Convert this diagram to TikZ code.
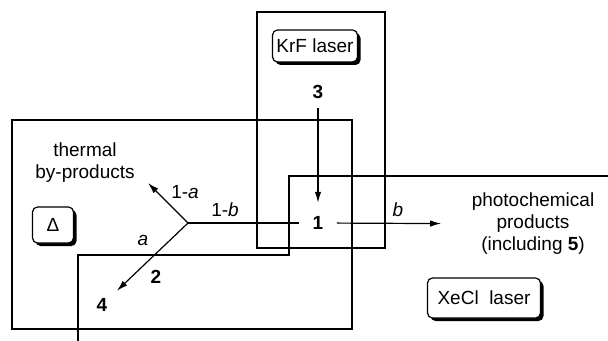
\documentclass[tikz,border=0pt]{standalone}
\usepackage{fontspec}
\setmainfont{Liberation Sans}
\usetikzlibrary{arrows.meta, positioning, shadows}

\begin{document}
\begin{tikzpicture}[x=0.5pt, y=-0.5pt, line width=0.6pt,
  font=\fontsize{9.5}{11}\selectfont,
  lamp/.style={draw, fill=white, rounded corners=2.5pt, inner sep=0pt,
    drop shadow={shadow xshift=1.5pt, shadow yshift=-1.5pt, opacity=1, fill=black}},
  cmpd/.style={font=\fontsize{9.5}{11}\selectfont\bfseries, inner sep=4.5pt},
  >={Latex[length=5.5pt, width=3.2pt]}]
\useasboundingbox (0,0) rectangle (608,341);

% irradiation / heating zones
\draw (12,120) rectangle (352,329);
\draw (257,12) rectangle (385,248);
\draw (78,341) -- (78,255) -- (289,255) -- (289,176) -- (608,176);

\node[lamp, minimum width=42.5pt, minimum height=16pt] (krf) at (315,46) {KrF laser};
\node[lamp, minimum width=20.5pt, minimum height=18pt] (heat) at (53,225) {Δ};
\node[lamp, minimum width=56.5pt, minimum height=20pt] (xecl) at (484,298) {XeCl\ \ laser};

\node[cmpd] (n3) at (318,92) {3};
\node[cmpd, inner sep=6.5pt] (n1) at (318,223) {1};
\node[cmpd] (n2) at (156,277) {2};
\node[cmpd] (n4) at (102,305) {4};
\coordinate (fork) at (188,223);
\coordinate (tb) at (148,183);

\node[align=center] (thermal) at (85,163) {thermal\\by-products};
\node[align=center, inner sep=0pt] (photo) at (533,224) {photochemical\\products\\(including \textbf{5})};

\node (l1a) at (185,192) {1-\textit{a}};
\node (l1b) at (225,210) {1-\textit{b}};
\node (la) at (143,240) {\textit{a}};
\node (lb) at (398,210) {\textit{b}};

\draw[->] (n3) -- (n1);
\draw (fork) -- (n1);
\draw[->, shorten >=15pt] (n1) -- (photo);
\draw[->] (fork) -- (tb);
\draw[->] (fork) -- (n4);
\end{tikzpicture}
\end{document}
